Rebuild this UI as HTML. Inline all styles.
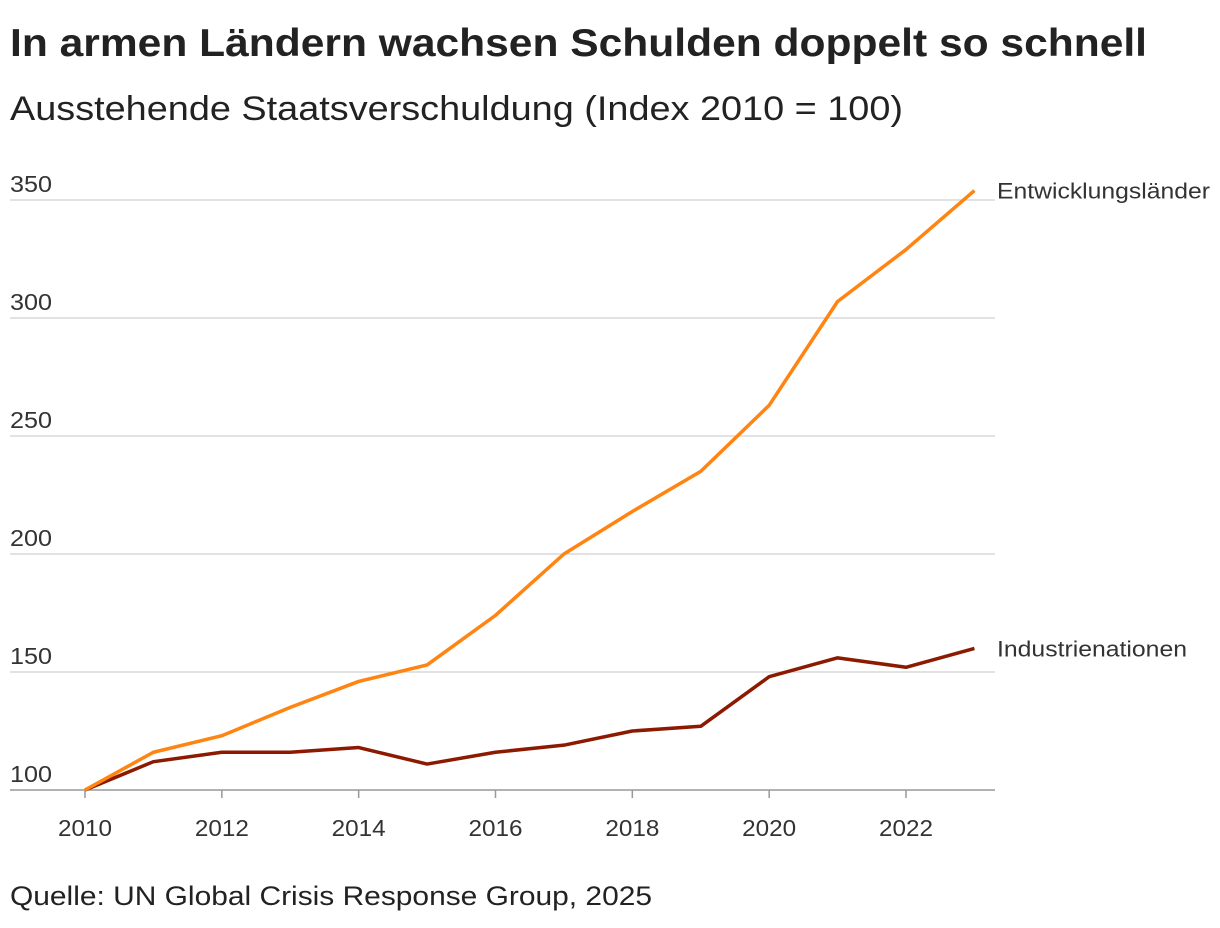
<!DOCTYPE html>
<html><head><meta charset="utf-8"><style>
body{margin:0;background:#fff;font-family:"Liberation Sans",sans-serif;}
svg{display:block}
</style></head><body>
<svg width="1220" height="928">
<text x="10" y="56" font-size="39" font-weight="bold" fill="#222" textLength="1137" lengthAdjust="spacingAndGlyphs">In armen Ländern wachsen Schulden doppelt so schnell</text>
<text x="10" y="120" font-size="34" fill="#222" textLength="893" lengthAdjust="spacingAndGlyphs">Ausstehende Staatsverschuldung (Index 2010 = 100)</text>
<g id="grid"></g><g id="lines"></g>
<text x="10" y="905" font-size="27" fill="#222" textLength="642" lengthAdjust="spacingAndGlyphs">Quelle: UN Global Crisis Response Group, 2025</text>
</svg>
<script>
const years=[2010,2011,2012,2013,2014,2015,2016,2017,2018,2019,2020,2021,2022,2023];
const developing=[100,116,123,135,146,153,174,200,218,235,263,307,329,354];
const industrial=[100,112,116,116,118,111,116,119,125,127,148,156,152,160];
const yTicks=[100,150,200,250,300,350];
const xTicks=[2010,2012,2014,2016,2018,2020,2022];
const NS="http://www.w3.org/2000/svg";
const x=v=>85+(v-2010)*(906-85)/12;
const y=v=>790-(v-100)*590/250;
const grid=document.getElementById('grid'),lines=document.getElementById('lines');
function mk(tag,attrs,parent,txt){const e=document.createElementNS(NS,tag);for(const k in attrs)e.setAttribute(k,attrs[k]);if(txt!==undefined)e.textContent=txt;parent.appendChild(e);return e;}
yTicks.forEach(t=>{
 const l=mk('line',{x1:10,x2:995,y1:y(t),y2:y(t),stroke:t===100?'#999':'#d0d0d0','stroke-width':t===100?1.5:1.2},grid);
 
 
 const tx=mk('text',{x:10,y:y(t)-8,'font-size':23,fill:'#333',textLength:42,lengthAdjust:'spacingAndGlyphs'},grid,t);
 
 
});
xTicks.forEach(t=>{
 const tk=mk('line',{x1:x(t),x2:x(t),y1:790,y2:798,stroke:'#999','stroke-width':1.5},grid);
 
 
 const tx=mk('text',{x:x(t),y:836,'font-size':23,fill:'#333','text-anchor':'middle',textLength:54,lengthAdjust:'spacingAndGlyphs'},grid,t);
 
 
});
function series(vals,color,name,label,len){
 const p=mk('polyline',{points:years.map((yr,i)=>x(yr)+','+y(vals[i])).join(' '),fill:'none',stroke:color,'stroke-width':3.5,'stroke-linejoin':'round'},lines);
 
 
 const last=vals[vals.length-1];
 const t=mk('text',{x:997,y:y(last)+8,'font-size':22,fill:'#333',textLength:len,lengthAdjust:'spacingAndGlyphs'},lines,label);
 
 
}
series(industrial,'#8b1a00','industrial-line','Industrienationen',190);
series(developing,'#ff8412','developing-line','Entwicklungsländer',213);
</script>
</body></html>
